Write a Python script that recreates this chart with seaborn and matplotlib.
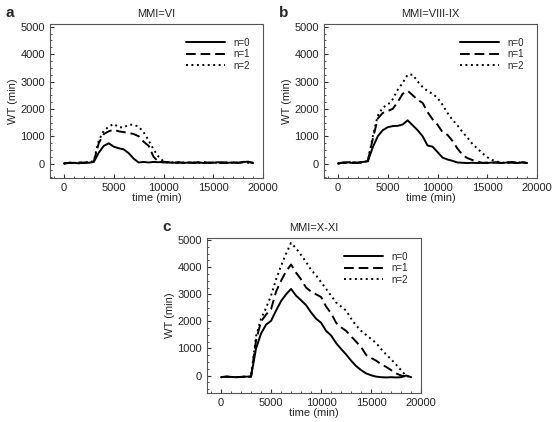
import numpy as np
import pandas as pd
import matplotlib
matplotlib.use('Agg')
import matplotlib.pyplot as plt
from matplotlib.ticker import AutoMinorLocator
import seaborn as sns

## time axis (min)
time_min = list(range(0, 19001, 500))

## MMI=VI
a_n0 = [0, 20, 30, 10, 40, 30, 60, 400, 650, 740, 620, 560, 520, 380, 180, 40, 60, 40, 60, 50,
        70, 40, 30, 50, 20, 40, 30, 50, 20, 40, 30, 50, 20, 30, 40, 20, 60, 70, 20]
a_n1 = [10, 30, 20, 40, 20, 50, 80, 750, 1080, 1180, 1240, 1180, 1150, 1120, 1080, 1000, 800, 650, 250, 60,
        40, 50, 20, 40, 30, 50, 20, 40, 50, 20, 40, 30, 50, 20, 40, 30, 50, 60, 30]
a_n2 = [0, 40, 20, 30, 50, 40, 100, 850, 1200, 1350, 1450, 1330, 1320, 1420, 1420, 1350, 1150, 850, 520, 250,
        80, 30, 50, 20, 40, 30, 40, 20, 50, 30, 20, 40, 30, 50, 20, 40, 50, 30, 20]

## MMI=VIII-IX
b_n0 = [0, 30, 50, 20, 40, 60, 80, 600, 1000, 1220, 1330, 1370, 1380, 1430, 1580, 1400, 1220, 1000, 660, 620,
        420, 220, 150, 100, 40, 30, 20, 30, 20, 30, 20, 40, 30, 20, 40, 30, 20, 40, 20]
b_n1 = [10, 40, 30, 50, 20, 50, 100, 900, 1650, 1850, 1920, 2000, 2250, 2550, 2660, 2500, 2330, 2220, 1880, 1620,
        1420, 1150, 1050, 830, 550, 320, 200, 130, 80, 20, 40, 30, 50, 20, 40, 60, 30, 50, 20]
b_n2 = [0, 20, 50, 30, 40, 50, 100, 1000, 1750, 2050, 2150, 2350, 2700, 2950, 3250, 3250, 3000, 2800, 2650, 2550,
        2400, 2150, 1850, 1600, 1400, 1150, 950, 720, 550, 380, 230, 130, 70, 30, 40, 20, 50, 30, 40]

## MMI=X-XI
c_n0 = [-60, -40, -50, -60, -50, -40, -40, 1000, 1550, 1880, 2020, 2400, 2750, 3000, 3200, 2950, 2780, 2600, 2330, 2100,
        1950, 1650, 1480, 1200, 980, 780, 550, 350, 200, 80, 10, -40, -60, -70, -60, -70, -60, 0, -60]
c_n1 = [-60, -40, -50, -60, -50, -40, -40, 1300, 2000, 2250, 2450, 3100, 3500, 3850, 4100, 3800, 3550, 3250, 3100, 3000,
        2900, 2550, 2300, 1950, 1780, 1650, 1450, 1250, 1050, 760, 650, 550, 420, 320, 200, 80, 0, -40, -60]
c_n2 = [-60, -40, -50, -60, -50, -40, -40, 1450, 2100, 2500, 2950, 3550, 4050, 4500, 4900, 4700, 4450, 4200, 3900, 3700,
        3450, 3200, 2950, 2700, 2550, 2400, 2100, 1850, 1650, 1500, 1350, 1200, 980, 780, 600, 400, 200, -20, -50]

sns.set_style('ticks')
plt.rcParams['font.family'] = ['Liberation Sans', 'DejaVu Sans']

fig = plt.figure(figsize=(5.52, 4.22), dpi=100)

panels = [
    ('a', 'MMI=VI', [a_n0, a_n1, a_n2], [0.0906, 0.578, 0.386, 0.365], (-530, 5100)),
    ('b', 'MMI=VIII-IX', [b_n0, b_n1, b_n2], [0.587, 0.578, 0.386, 0.365], (-530, 5100)),
    ('c', 'MMI=X-XI', [c_n0, c_n1, c_n2], [0.375, 0.069, 0.388, 0.367], (-640, 5080)),
]

labels = ['n=0', 'n=1', 'n=2']
styles = ['-', (0, (5, 2.5)), (0, (1, 1.8))]

for letter, title, series, pos, ylim in panels:
    ax = fig.add_axes(pos)
    for vals, lab, ls in zip(series, labels, styles):
        sns.lineplot(x=time_min, y=vals, ax=ax, color='black', linestyle=ls,
                     linewidth=1.4, label=lab)
    ax.set_xlim(-1400, 20000)
    ax.set_ylim(*ylim)
    ax.set_xticks([0, 5000, 10000, 15000, 20000])
    ax.set_yticks([0, 1000, 2000, 3000, 4000, 5000])
    ax.xaxis.set_minor_locator(AutoMinorLocator(5))
    ax.yaxis.set_minor_locator(AutoMinorLocator(4))
    ax.tick_params(which='both', direction='in', labelsize=8, color='#333333')
    ax.tick_params(which='major', length=3)
    ax.tick_params(which='minor', length=1.5)
    for sp in ax.spines.values():
        sp.set_color('#555555')
        sp.set_linewidth(0.8)
    ax.set_xlabel('time (min)', fontsize=8, labelpad=0)
    ax.set_ylabel('WT (min)', fontsize=8, labelpad=2)
    ax.set_title(title, fontsize=8, pad=5)
    ax.text(-0.21, 1.07, letter, transform=ax.transAxes, fontsize=11,
            fontweight='bold', va='center', ha='left')
    ax.legend(loc='upper right', frameon=False, fontsize=7, handlelength=4,
              labelspacing=0.15, borderaxespad=1.0)

fig.savefig('out.png', dpi=100)
